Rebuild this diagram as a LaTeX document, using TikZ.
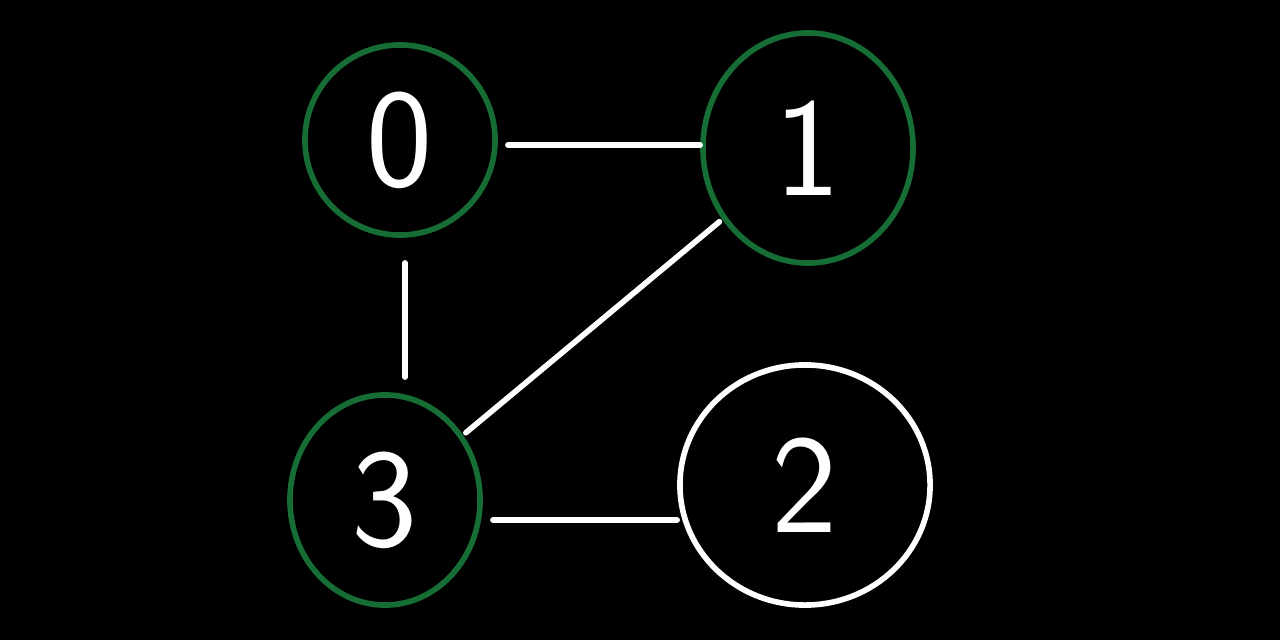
\documentclass[tikz,border=0pt]{standalone}
\usetikzlibrary{shapes.geometric}
\definecolor{hg}{RGB}{22,110,52}
\begin{document}
\begin{tikzpicture}[x=0.01cm,y=-0.01cm,
  vert/.style={ellipse,draw=hg,line width=1.6pt,text=white,font=\sffamily\fontsize{40}{42}\selectfont,inner sep=0pt},
  edge/.style={draw=white,line width=1.6pt,line cap=round}]
\fill[black] (0,0) rectangle (1280,640);
\node[vert,minimum width=1.9cm,minimum height=1.9cm] (n0) at (400,140) {0};
\node[vert,minimum width=2.1cm,minimum height=2.3cm] (n1) at (808,148) {1};
\node[vert,minimum width=1.9cm,minimum height=2.1cm] (n3) at (385,500) {3};
\node[vert,draw=white,minimum width=2.5cm,minimum height=2.4cm] (n2) at (805,485) {2};
\coordinate (a0) at ([xshift=1mm,yshift=-0.5mm]n0.east);
\coordinate (a1) at (a0 -| n1.west);
\draw[edge] (a0) -- (a1);
\coordinate (b0) at ([xshift=0.05cm,yshift=-0.25cm]n0.south);
\coordinate (b3) at ([yshift=0.15cm]b0 |- n3.north);
\draw[edge] (b0) -- (b3);
\draw[edge,shorten <=1pt,shorten >=1pt] (n1) -- (n3);
\coordinate (c3) at ([xshift=1mm,yshift=-0.2cm]n3.east);
\coordinate (c2) at (c3 -| n2.west);
\draw[edge] (c3) -- (c2);
\end{tikzpicture}
\end{document}
